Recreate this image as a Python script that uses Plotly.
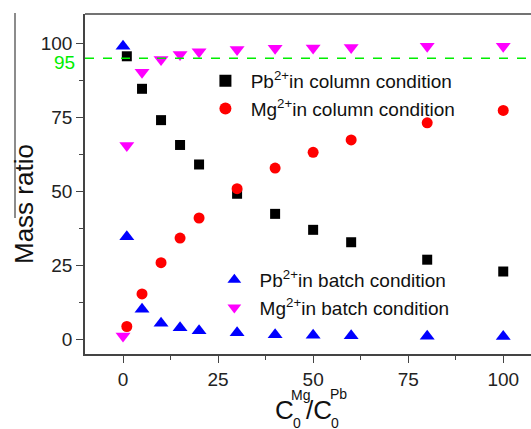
import plotly.graph_objects as go

# Data
x_col = [1, 5, 10, 15, 20, 30, 40, 50, 60, 80, 100]
pb_col = [95.7, 84.7, 74.1, 65.7, 59.1, 49.2, 42.4, 37.0, 32.8, 26.9, 22.9]
mg_col = [4.3, 15.3, 25.9, 34.2, 41.0, 50.9, 57.9, 63.2, 67.4, 73.2, 77.4]

x_batch = [0, 1, 5, 10, 15, 20, 30, 40, 50, 60, 80, 100]
pb_batch = [99.1, 34.7, 10.1, 5.4, 3.9, 2.9, 2.2, 1.5, 1.3, 1.2, 1.0, 0.9]
mg_batch = [1.1, 65.5, 90.3, 94.6, 96.3, 97.2, 98.0, 98.4, 98.5, 98.7, 99.1, 99.1]

threshold = 95
x_ticks = [0, 25, 50, 75, 100]
y_ticks = [0, 25, 50, 75, 100]

FONT = "Arial, Liberation Sans, sans-serif"

# plot area in pixels (for placing text pieces)
L, R, T, B = 85, 531, 14, 354
W, H = R - L, B - T


def px(x):
    return (x - L) / W


def py(y):
    return (B - y) / H


fig = go.Figure()
fig.add_trace(go.Scatter(x=x_batch, y=pb_batch, mode="markers", name="\u00a0Pb<sup>2+</sup>in batch condition",
                         marker=dict(symbol="triangle-up", size=13, color="#0000ff"), legend="legend2"))
fig.add_trace(go.Scatter(x=x_batch, y=mg_batch, mode="markers", name="\u00a0Mg<sup>2+</sup>in batch condition",
                         marker=dict(symbol="triangle-down", size=13, color="#ff00ff"), legend="legend2"))
fig.add_trace(go.Scatter(x=x_col, y=pb_col, mode="markers", name="\u00a0Pb<sup>2+</sup>in column condition",
                         marker=dict(symbol="square", size=10, color="black"), legend="legend"))
fig.add_trace(go.Scatter(x=x_col, y=mg_col, mode="markers", name="\u00a0Mg<sup>2+</sup>in column condition",
                         marker=dict(symbol="circle", size=11, color="#ff0000"), legend="legend"))

fig.add_hline(y=threshold, line=dict(color="#00ee00", width=1.5, dash="dash"))

axis_common = dict(
    showline=True, linecolor="#444", linewidth=1.5,
    ticks="outside", ticklen=7, tickwidth=1.2, tickcolor="#444",
    showgrid=False, zeroline=False,
    tickfont=dict(family=FONT, size=19, color="#222"),
)

fig.update_xaxes(range=[-10, 107.3], tickvals=x_ticks,
                 minor=dict(ticks="outside", ticklen=4, tickcolor="#444", dtick=12.5, tick0=0),
                 **axis_common)
fig.update_yaxes(range=[-5, 110], tickvals=y_ticks,
                 minor=dict(ticks="outside", ticklen=4, tickcolor="#444", dtick=12.5, tick0=0),
                 **axis_common)

# top border and left artifact line
fig.add_shape(type="line", xref="paper", yref="paper", x0=0, x1=1, y0=1, y1=1,
              line=dict(color="#444", width=1.5))
fig.add_shape(type="line", xref="paper", yref="paper", x0=px(15), x1=px(15), y0=py(13), y1=py(218),
              line=dict(color="#666", width=1.5))

fig.add_annotation(x=0, xref="paper", y=threshold, yref="y", text="95", showarrow=False,
                   xanchor="right", xshift=-8, yshift=-4,
                   font=dict(family=FONT, size=19, color="#00ee00"))

# y axis title
fig.add_annotation(x=px(24), y=py(204), xref="paper", yref="paper", text="Mass ratio",
                   textangle=-90, showarrow=False, xanchor="center", yanchor="middle",
                   font=dict(family=FONT, size=26, color="#111"))

# x axis title built from stacked pieces: C_0^Mg / C_0^Pb
title_pieces = [
    ("C", 284, 410, 26),
    ("Mg", 300.5, 395, 14),
    ("0", 296.5, 423, 14),
    ("/C", 319, 410, 26),
    ("Pb", 338, 394, 14),
    ("0", 335, 423, 14),
]
for txt, cx, cy, sz in title_pieces:
    fig.add_annotation(x=px(cx), y=py(cy), xref="paper", yref="paper", text=txt, showarrow=False,
                       xanchor="center", yanchor="middle",
                       font=dict(family=FONT, size=sz, color="#111"))

legend_common = dict(font=dict(family=FONT, size=19, color="#111"), bgcolor="rgba(0,0,0,0)",
                     xanchor="left", yanchor="top", tracegroupgap=0, itemsizing="constant")
fig.update_layout(
    width=531, height=429,
    margin=dict(l=L, r=0, t=T, b=429 - B),
    paper_bgcolor="white", plot_bgcolor="white",
    showlegend=True,
    legend=dict(x=0.27, y=0.859, **legend_common),
    legend2=dict(x=0.29, y=0.274, **legend_common),
)

fig.write_html("out.html")
